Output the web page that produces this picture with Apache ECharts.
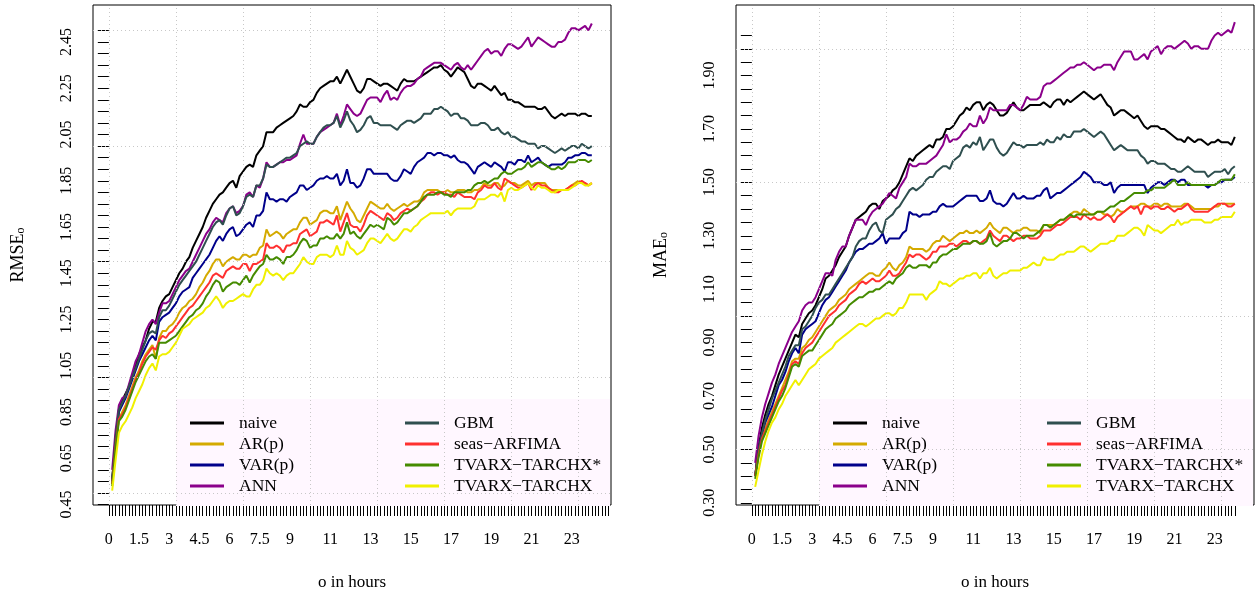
<!DOCTYPE html>
<html><head><meta charset="utf-8">
<script src="https://cdn.jsdelivr.net/npm/echarts@6/dist/echarts.min.js"></script>
<style>html,body{margin:0;padding:0;background:#fff}#c{width:1260px;height:596px}</style>
</head><body><div id="c"></div>
<script>
const seriesNames = ['naive','AR(p)','VAR(p)','ANN','GBM','seas\u2212ARFIMA','TVARX\u2212TARCHX*','TVARX\u2212TARCHX'];
const seriesColors = ['#000000','#D4AA00','#00008B','#8B008B','#2F4F4F','#FF3030','#458B00','#F0F000'];
const xTickHours = [0,1.5,3,4.5,6,7.5,9,11,13,15,17,19,21,23];
const stepsPerHour = 6;
const rmseTickLabels = [0.45,0.65,0.85,1.05,1.25,1.45,1.65,1.85,2.05,2.25,2.45];
const maeTickLabels = [0.30,0.50,0.70,0.90,1.10,1.30,1.50,1.70,1.90];
const rmseGridY = [0.5,1.0,1.5,2.0,2.5];
const maeGridY = [0.5,1.0,1.5,2.0];
const gridX = [0,20,40,60,80,100,120,140];

// ---- RMSE (left panel), 144 ten-minute steps ----
const rmseNaive = [
0.56,0.73,0.86,0.90,0.93,0.96,1.00,1.05,1.10,1.13,1.16,1.21,
1.24,1.24,1.30,1.33,1.35,1.36,1.39,1.42,1.45,1.47,1.50,1.52,
1.56,1.59,1.62,1.65,1.69,1.72,1.75,1.77,1.79,1.80,1.82,1.84,
1.85,1.82,1.87,1.89,1.91,1.92,1.91,1.96,1.98,2.00,2.06,2.06,
2.06,2.08,2.09,2.10,2.11,2.12,2.13,2.15,2.18,2.17,2.17,2.19,
2.20,2.23,2.25,2.26,2.27,2.28,2.28,2.30,2.27,2.30,2.33,2.30,
2.27,2.24,2.23,2.25,2.29,2.29,2.28,2.27,2.26,2.27,2.27,2.26,
2.25,2.24,2.27,2.29,2.28,2.28,2.28,2.29,2.30,2.31,2.32,2.33,
2.34,2.34,2.35,2.33,2.32,2.30,2.32,2.34,2.33,2.32,2.29,2.26,
2.25,2.27,2.27,2.26,2.25,2.24,2.26,2.24,2.22,2.23,2.20,2.20,
2.19,2.19,2.18,2.17,2.17,2.17,2.17,2.16,2.16,2.17,2.15,2.13,
2.12,2.13,2.14,2.13,2.14,2.14,2.14,2.13,2.14,2.14,2.13,2.13];
const rmseAR = [
0.54,0.71,0.82,0.85,0.88,0.92,0.96,1.00,1.03,1.07,1.10,1.12,
1.14,1.08,1.17,1.20,1.20,1.22,1.23,1.25,1.28,1.30,1.31,1.33,
1.34,1.36,1.39,1.41,1.44,1.46,1.49,1.51,1.51,1.48,1.50,1.51,
1.52,1.51,1.51,1.53,1.53,1.52,1.53,1.53,1.56,1.57,1.64,1.61,
1.62,1.63,1.62,1.60,1.62,1.63,1.64,1.64,1.67,1.69,1.69,1.66,
1.67,1.68,1.71,1.72,1.72,1.71,1.71,1.74,1.68,1.72,1.76,1.73,
1.71,1.68,1.67,1.70,1.73,1.76,1.75,1.74,1.73,1.73,1.75,1.73,
1.72,1.73,1.74,1.75,1.74,1.75,1.76,1.76,1.77,1.80,1.81,1.81,
1.81,1.81,1.80,1.80,1.81,1.80,1.80,1.81,1.81,1.81,1.80,1.80,
1.81,1.81,1.82,1.84,1.83,1.83,1.84,1.84,1.82,1.83,1.85,1.84,
1.84,1.83,1.83,1.84,1.85,1.83,1.84,1.84,1.84,1.84,1.82,1.81,
1.81,1.81,1.81,1.81,1.82,1.83,1.84,1.85,1.84,1.84,1.83,1.84];
const rmseVAR = [
0.55,0.73,0.85,0.88,0.91,0.95,0.99,1.03,1.07,1.10,1.13,1.16,
1.18,1.16,1.24,1.26,1.27,1.28,1.30,1.32,1.35,1.37,1.38,1.39,
1.43,1.45,1.47,1.49,1.51,1.53,1.56,1.59,1.61,1.59,1.62,1.64,
1.65,1.61,1.62,1.64,1.66,1.67,1.65,1.70,1.70,1.72,1.80,1.77,
1.77,1.76,1.77,1.77,1.76,1.78,1.79,1.80,1.83,1.83,1.81,1.82,
1.83,1.85,1.86,1.86,1.87,1.86,1.86,1.88,1.83,1.85,1.90,1.84,
1.84,1.82,1.83,1.86,1.90,1.90,1.88,1.88,1.88,1.88,1.88,1.86,
1.85,1.85,1.87,1.90,1.89,1.88,1.91,1.93,1.94,1.95,1.97,1.97,
1.96,1.97,1.97,1.96,1.96,1.95,1.96,1.94,1.93,1.93,1.92,1.90,
1.88,1.91,1.92,1.93,1.92,1.91,1.93,1.92,1.91,1.89,1.93,1.93,
1.92,1.94,1.94,1.93,1.96,1.93,1.94,1.95,1.93,1.92,1.91,1.92,
1.92,1.92,1.92,1.93,1.95,1.95,1.96,1.96,1.97,1.97,1.96,1.96];
const rmseANN = [
0.60,0.77,0.88,0.91,0.92,0.97,1.02,1.07,1.10,1.15,1.20,1.23,
1.25,1.23,1.28,1.32,1.32,1.33,1.36,1.39,1.42,1.44,1.46,1.47,
1.50,1.53,1.56,1.59,1.62,1.64,1.67,1.69,1.68,1.67,1.71,1.73,
1.74,1.71,1.72,1.74,1.79,1.80,1.78,1.83,1.82,1.86,1.93,1.91,
1.91,1.92,1.93,1.93,1.94,1.94,1.95,1.96,2.01,2.05,2.01,2.01,
2.01,2.04,2.06,2.07,2.08,2.09,2.10,2.14,2.09,2.13,2.18,2.16,
2.14,2.13,2.14,2.17,2.20,2.21,2.21,2.21,2.19,2.22,2.24,2.20,
2.21,2.20,2.23,2.25,2.26,2.26,2.27,2.29,2.30,2.33,2.34,2.35,
2.36,2.36,2.36,2.35,2.34,2.33,2.35,2.36,2.34,2.33,2.35,2.33,
2.35,2.37,2.39,2.41,2.42,2.40,2.41,2.41,2.39,2.42,2.44,2.44,
2.43,2.42,2.43,2.45,2.47,2.43,2.45,2.47,2.46,2.45,2.44,2.43,
2.43,2.45,2.45,2.46,2.49,2.51,2.51,2.50,2.51,2.52,2.50,2.53];
const rmseGBM = [
0.55,0.74,0.86,0.89,0.92,0.96,1.00,1.04,1.08,1.12,1.16,1.19,
1.20,1.19,1.26,1.29,1.29,1.31,1.34,1.37,1.40,1.42,1.44,1.46,
1.48,1.50,1.53,1.56,1.59,1.62,1.65,1.67,1.68,1.66,1.70,1.73,
1.74,1.70,1.71,1.74,1.78,1.79,1.78,1.83,1.83,1.86,1.92,1.91,
1.91,1.92,1.93,1.94,1.95,1.95,1.96,1.97,2.00,2.01,2.02,2.01,
2.01,2.04,2.06,2.08,2.09,2.09,2.10,2.13,2.08,2.11,2.15,2.11,
2.09,2.06,2.07,2.09,2.12,2.13,2.10,2.10,2.09,2.09,2.09,2.09,
2.08,2.07,2.09,2.10,2.11,2.11,2.10,2.11,2.12,2.14,2.14,2.14,
2.16,2.16,2.17,2.16,2.15,2.13,2.14,2.14,2.12,2.12,2.11,2.09,
2.09,2.09,2.10,2.10,2.09,2.07,2.07,2.08,2.06,2.05,2.06,2.04,
2.04,2.03,2.02,2.02,2.01,2.01,2.01,1.99,2.00,2.00,1.99,1.98,
1.97,1.98,1.99,1.98,1.99,2.00,2.00,1.99,2.01,2.00,1.99,2.00];
const rmseSeas = [
0.54,0.70,0.82,0.84,0.87,0.91,0.95,0.99,1.02,1.06,1.09,1.11,
1.13,1.12,1.16,1.18,1.17,1.19,1.20,1.22,1.24,1.26,1.28,1.30,
1.31,1.33,1.35,1.37,1.39,1.41,1.44,1.45,1.44,1.43,1.46,1.47,
1.48,1.47,1.47,1.49,1.49,1.46,1.49,1.49,1.50,1.51,1.58,1.56,
1.56,1.57,1.56,1.54,1.57,1.57,1.58,1.58,1.62,1.63,1.64,1.61,
1.62,1.63,1.67,1.67,1.68,1.67,1.66,1.70,1.63,1.67,1.71,1.66,
1.65,1.65,1.63,1.66,1.70,1.72,1.71,1.70,1.69,1.68,1.71,1.70,
1.68,1.69,1.71,1.72,1.73,1.72,1.73,1.74,1.76,1.77,1.79,1.80,
1.80,1.79,1.80,1.80,1.79,1.79,1.78,1.80,1.79,1.78,1.78,1.78,
1.77,1.80,1.81,1.83,1.82,1.82,1.84,1.82,1.81,1.86,1.85,1.84,
1.83,1.82,1.82,1.83,1.84,1.81,1.83,1.84,1.83,1.83,1.82,1.81,
1.80,1.80,1.81,1.81,1.82,1.83,1.83,1.84,1.85,1.84,1.83,1.84];
const rmseTvStar = [
0.53,0.69,0.81,0.83,0.86,0.90,0.94,0.98,1.01,1.04,1.07,1.09,
1.10,1.08,1.15,1.15,1.15,1.16,1.17,1.18,1.20,1.22,1.24,1.26,
1.27,1.29,1.30,1.32,1.35,1.37,1.40,1.42,1.41,1.37,1.39,1.40,
1.41,1.41,1.40,1.42,1.44,1.41,1.44,1.46,1.48,1.49,1.53,1.51,
1.51,1.52,1.51,1.49,1.52,1.52,1.53,1.55,1.58,1.60,1.59,1.56,
1.57,1.57,1.60,1.60,1.61,1.60,1.60,1.62,1.60,1.62,1.67,1.62,
1.63,1.61,1.60,1.62,1.64,1.66,1.65,1.66,1.65,1.64,1.69,1.68,
1.66,1.67,1.69,1.71,1.71,1.72,1.73,1.74,1.76,1.78,1.79,1.79,
1.79,1.80,1.80,1.79,1.79,1.78,1.80,1.80,1.80,1.80,1.81,1.81,
1.83,1.84,1.84,1.85,1.84,1.85,1.86,1.86,1.88,1.89,1.88,1.88,
1.89,1.90,1.90,1.91,1.93,1.91,1.92,1.93,1.93,1.92,1.91,1.90,
1.90,1.91,1.90,1.91,1.93,1.93,1.93,1.94,1.94,1.94,1.93,1.94];
const rmseTv = [
0.51,0.64,0.76,0.79,0.81,0.84,0.87,0.91,0.94,0.97,1.01,1.04,
1.06,1.03,1.09,1.10,1.10,1.11,1.13,1.15,1.18,1.21,1.22,1.23,
1.25,1.26,1.27,1.28,1.30,1.31,1.33,1.35,1.33,1.30,1.32,1.33,
1.33,1.34,1.35,1.36,1.35,1.35,1.38,1.40,1.40,1.42,1.47,1.45,
1.44,1.45,1.44,1.42,1.44,1.45,1.45,1.47,1.49,1.52,1.50,1.49,
1.49,1.52,1.53,1.53,1.53,1.52,1.53,1.57,1.53,1.53,1.59,1.56,
1.55,1.53,1.54,1.55,1.58,1.60,1.60,1.59,1.58,1.60,1.62,1.60,
1.59,1.60,1.62,1.64,1.64,1.63,1.65,1.66,1.68,1.69,1.70,1.71,
1.71,1.71,1.71,1.71,1.72,1.70,1.72,1.73,1.73,1.73,1.73,1.73,
1.74,1.77,1.77,1.77,1.78,1.79,1.79,1.78,1.80,1.76,1.81,1.82,
1.81,1.81,1.82,1.83,1.84,1.82,1.81,1.83,1.82,1.82,1.81,1.80,
1.80,1.81,1.81,1.81,1.81,1.82,1.83,1.84,1.84,1.83,1.83,1.84];

// ---- MAE (right panel) ----
const maeNaive = [
0.40,0.51,0.58,0.63,0.67,0.70,0.74,0.78,0.81,0.84,0.87,0.90,
0.93,0.92,0.97,0.99,1.01,1.02,1.04,1.07,1.10,1.14,1.15,1.17,
1.19,1.22,1.24,1.26,1.30,1.33,1.36,1.37,1.38,1.39,1.41,1.42,
1.42,1.40,1.43,1.44,1.45,1.47,1.48,1.50,1.53,1.56,1.59,1.58,
1.60,1.61,1.62,1.63,1.64,1.63,1.66,1.66,1.67,1.70,1.70,1.71,
1.73,1.75,1.76,1.78,1.77,1.79,1.80,1.80,1.77,1.79,1.80,1.79,
1.77,1.75,1.75,1.76,1.78,1.80,1.78,1.77,1.77,1.78,1.79,1.79,
1.79,1.79,1.80,1.79,1.78,1.80,1.81,1.81,1.79,1.81,1.80,1.81,
1.82,1.83,1.84,1.83,1.82,1.81,1.82,1.83,1.81,1.79,1.78,1.75,
1.76,1.77,1.77,1.76,1.75,1.74,1.75,1.73,1.71,1.70,1.71,1.71,
1.71,1.70,1.70,1.69,1.68,1.67,1.66,1.66,1.65,1.67,1.66,1.65,
1.66,1.66,1.65,1.64,1.65,1.65,1.66,1.65,1.65,1.65,1.64,1.67];
const maeAR = [
0.40,0.49,0.54,0.58,0.61,0.64,0.67,0.70,0.73,0.76,0.79,0.83,
0.84,0.84,0.88,0.89,0.91,0.92,0.94,0.96,0.98,1.00,1.02,1.03,
1.04,1.06,1.07,1.08,1.10,1.11,1.12,1.13,1.14,1.15,1.16,1.16,
1.15,1.15,1.17,1.18,1.20,1.18,1.17,1.19,1.20,1.22,1.26,1.25,
1.25,1.25,1.25,1.24,1.25,1.27,1.28,1.28,1.30,1.29,1.28,1.29,
1.30,1.31,1.31,1.32,1.31,1.31,1.32,1.31,1.32,1.33,1.35,1.33,
1.32,1.31,1.33,1.33,1.32,1.31,1.32,1.32,1.33,1.33,1.32,1.32,
1.32,1.31,1.34,1.34,1.34,1.34,1.35,1.36,1.36,1.37,1.38,1.39,
1.39,1.38,1.40,1.39,1.38,1.38,1.39,1.39,1.38,1.38,1.37,1.38,
1.40,1.39,1.39,1.40,1.41,1.41,1.41,1.42,1.42,1.41,1.41,1.42,
1.42,1.41,1.42,1.42,1.41,1.41,1.41,1.41,1.42,1.42,1.41,1.40,
1.40,1.40,1.40,1.40,1.40,1.41,1.41,1.42,1.42,1.42,1.42,1.42];
const maeVAR = [
0.40,0.50,0.56,0.60,0.63,0.66,0.70,0.74,0.76,0.79,0.83,0.86,
0.88,0.86,0.93,0.95,0.96,0.97,0.98,1.01,1.04,1.06,1.07,1.09,
1.11,1.13,1.15,1.17,1.20,1.22,1.24,1.25,1.25,1.26,1.27,1.27,
1.28,1.29,1.31,1.27,1.29,1.29,1.29,1.29,1.31,1.32,1.39,1.38,
1.38,1.37,1.38,1.38,1.38,1.39,1.39,1.41,1.42,1.41,1.41,1.41,
1.42,1.43,1.44,1.45,1.45,1.45,1.45,1.43,1.43,1.44,1.47,1.43,
1.42,1.42,1.41,1.42,1.44,1.46,1.44,1.44,1.45,1.44,1.44,1.44,
1.45,1.45,1.47,1.48,1.44,1.45,1.46,1.46,1.47,1.48,1.49,1.50,
1.51,1.52,1.54,1.53,1.52,1.50,1.50,1.50,1.49,1.49,1.50,1.46,
1.48,1.49,1.49,1.49,1.49,1.49,1.49,1.49,1.49,1.46,1.48,1.49,
1.50,1.50,1.49,1.50,1.51,1.51,1.50,1.51,1.51,1.49,1.49,1.49,
1.49,1.49,1.49,1.48,1.49,1.49,1.50,1.50,1.51,1.51,1.51,1.52];
const maeANN = [
0.45,0.55,0.62,0.67,0.71,0.75,0.78,0.82,0.85,0.88,0.91,0.94,
0.96,0.98,1.02,1.04,1.05,1.05,1.07,1.10,1.13,1.16,1.16,1.15,
1.21,1.24,1.26,1.26,1.30,1.33,1.36,1.36,1.36,1.34,1.37,1.39,
1.40,1.41,1.42,1.44,1.46,1.45,1.44,1.48,1.50,1.52,1.57,1.56,
1.56,1.57,1.57,1.57,1.58,1.59,1.60,1.62,1.64,1.68,1.65,1.66,
1.66,1.67,1.69,1.70,1.72,1.71,1.71,1.75,1.72,1.74,1.78,1.77,
1.77,1.77,1.77,1.77,1.79,1.79,1.78,1.77,1.79,1.82,1.81,1.81,
1.81,1.82,1.86,1.87,1.87,1.88,1.89,1.90,1.91,1.92,1.93,1.93,
1.94,1.94,1.95,1.94,1.93,1.92,1.93,1.93,1.94,1.94,1.94,1.92,
1.95,1.97,1.99,1.99,1.99,1.96,1.96,1.97,1.98,1.96,1.99,2.00,
2.01,1.98,2.00,2.01,2.01,2.00,2.01,2.02,2.03,2.02,2.00,2.01,
2.01,2.00,2.00,2.00,2.03,2.05,2.06,2.05,2.06,2.07,2.06,2.10];
const maeGBM = [
0.40,0.50,0.56,0.61,0.65,0.69,0.72,0.75,0.78,0.81,0.85,0.87,
0.89,0.89,0.95,0.96,0.98,1.00,1.03,1.05,1.06,1.08,1.08,1.10,
1.12,1.14,1.16,1.18,1.20,1.22,1.26,1.28,1.29,1.29,1.32,1.34,
1.35,1.32,1.31,1.36,1.37,1.38,1.40,1.41,1.43,1.45,1.47,1.48,
1.47,1.48,1.49,1.51,1.52,1.52,1.54,1.55,1.56,1.56,1.55,1.58,
1.59,1.60,1.63,1.64,1.63,1.65,1.64,1.67,1.62,1.64,1.66,1.66,
1.63,1.61,1.60,1.61,1.63,1.65,1.64,1.64,1.63,1.64,1.64,1.64,
1.64,1.65,1.64,1.66,1.65,1.65,1.67,1.66,1.68,1.67,1.67,1.69,
1.69,1.69,1.70,1.69,1.68,1.67,1.68,1.69,1.68,1.66,1.64,1.62,
1.63,1.64,1.63,1.62,1.62,1.62,1.62,1.60,1.59,1.57,1.58,1.58,
1.57,1.57,1.57,1.56,1.55,1.55,1.54,1.54,1.55,1.56,1.55,1.54,
1.54,1.54,1.54,1.52,1.53,1.54,1.54,1.54,1.55,1.53,1.55,1.56];
const maeSeas = [
0.40,0.48,0.54,0.57,0.60,0.63,0.66,0.69,0.72,0.74,0.78,0.82,
0.83,0.82,0.86,0.88,0.89,0.90,0.92,0.94,0.96,0.98,1.00,1.01,
1.02,1.04,1.05,1.06,1.08,1.09,1.10,1.12,1.13,1.12,1.13,1.14,
1.13,1.13,1.14,1.15,1.17,1.15,1.15,1.16,1.18,1.20,1.23,1.22,
1.23,1.23,1.22,1.21,1.22,1.24,1.24,1.26,1.26,1.26,1.27,1.27,
1.26,1.27,1.28,1.28,1.27,1.28,1.28,1.27,1.28,1.29,1.32,1.30,
1.29,1.28,1.30,1.30,1.29,1.28,1.29,1.29,1.30,1.30,1.29,1.29,
1.29,1.30,1.32,1.32,1.32,1.33,1.34,1.34,1.35,1.36,1.37,1.37,
1.37,1.36,1.38,1.37,1.36,1.37,1.36,1.36,1.37,1.38,1.37,1.35,
1.37,1.38,1.39,1.40,1.41,1.40,1.41,1.38,1.41,1.41,1.40,1.41,
1.41,1.40,1.40,1.41,1.40,1.39,1.40,1.40,1.41,1.42,1.40,1.39,
1.39,1.39,1.39,1.39,1.40,1.41,1.42,1.42,1.42,1.41,1.41,1.42];
const maeTvStar = [
0.39,0.47,0.53,0.56,0.59,0.62,0.65,0.68,0.70,0.73,0.77,0.81,
0.82,0.81,0.85,0.86,0.87,0.87,0.89,0.91,0.93,0.95,0.96,0.97,
0.99,1.00,1.01,1.02,1.04,1.05,1.06,1.07,1.07,1.08,1.09,1.09,
1.10,1.10,1.11,1.12,1.13,1.12,1.14,1.15,1.16,1.18,1.19,1.18,
1.18,1.19,1.19,1.19,1.18,1.20,1.20,1.22,1.23,1.23,1.24,1.25,
1.25,1.26,1.27,1.27,1.27,1.28,1.28,1.27,1.27,1.28,1.31,1.27,
1.26,1.27,1.28,1.28,1.29,1.31,1.31,1.30,1.29,1.30,1.30,1.30,
1.31,1.32,1.34,1.34,1.33,1.34,1.35,1.36,1.36,1.37,1.38,1.37,
1.38,1.38,1.38,1.38,1.38,1.38,1.39,1.39,1.39,1.40,1.41,1.41,
1.42,1.43,1.43,1.44,1.45,1.46,1.46,1.46,1.46,1.47,1.47,1.48,
1.48,1.48,1.48,1.49,1.50,1.51,1.49,1.49,1.49,1.50,1.49,1.49,
1.49,1.49,1.49,1.49,1.49,1.49,1.50,1.51,1.51,1.51,1.51,1.53];
const maeTv = [
0.36,0.42,0.48,0.53,0.57,0.60,0.62,0.65,0.67,0.70,0.72,0.74,
0.76,0.74,0.76,0.78,0.80,0.81,0.82,0.84,0.85,0.86,0.87,0.88,
0.90,0.91,0.92,0.93,0.94,0.95,0.96,0.97,0.97,0.96,0.97,0.98,
0.99,0.99,1.00,1.01,1.01,1.00,1.01,1.03,1.03,1.05,1.08,1.08,
1.08,1.08,1.08,1.06,1.08,1.09,1.10,1.13,1.12,1.12,1.11,1.12,
1.13,1.14,1.14,1.15,1.15,1.16,1.16,1.14,1.16,1.16,1.18,1.15,
1.14,1.15,1.16,1.16,1.17,1.17,1.17,1.17,1.18,1.18,1.19,1.20,
1.19,1.19,1.22,1.21,1.21,1.21,1.22,1.23,1.23,1.24,1.24,1.24,
1.25,1.26,1.26,1.25,1.24,1.25,1.26,1.27,1.27,1.27,1.28,1.28,
1.30,1.30,1.30,1.31,1.32,1.33,1.33,1.32,1.30,1.34,1.33,1.32,
1.32,1.31,1.32,1.33,1.34,1.34,1.36,1.34,1.35,1.35,1.36,1.36,
1.36,1.36,1.35,1.35,1.35,1.36,1.36,1.37,1.37,1.37,1.37,1.39];

const rmseSeries = [rmseNaive, rmseAR, rmseVAR, rmseANN, rmseGBM, rmseSeas, rmseTvStar, rmseTv];
const maeSeries  = [maeNaive, maeAR, maeVAR, maeANN, maeGBM, maeSeas, maeTvStar, maeTv];

const FONT = 'Liberation Serif';
function range(a, b, step) { const out = []; for (let v = a; v <= b + 1e-9; v += step) out.push(Math.round(v * 1000) / 1000); return out; }

const chart = echarts.init(document.getElementById('c'), null, { renderer: 'canvas' });

function makeX(gi, tickEnd) {
  return {
    gridIndex: gi, type: 'value', min: -4.72, max: 149.72,
    axisLine: { show: false },
    axisTick: { show: true, length: 11, customValues: range(0, tickEnd, 1), lineStyle: { color: '#000', width: 1 } },
    axisLabel: {
      customValues: xTickHours.map(h => h * stepsPerHour),
      formatter: v => String(xTickHours[xTickHours.findIndex(h => Math.abs(h * stepsPerHour - v) < 1e-6)]),
      margin: 27, fontFamily: FONT, fontSize: 16, color: '#000'
    },
    splitLine: { show: false },
    name: 'o in hours', nameLocation: 'middle', nameGap: 69,
    nameTextStyle: { fontFamily: FONT, fontSize: 17, color: '#000' }
  };
}
function makeY(gi, min, max, minorFrom, minorTo, labels, title) {
  return {
    gridIndex: gi, type: 'value', min: min, max: max,
    axisLine: { show: false },
    axisTick: { show: true, length: 11, customValues: range(minorFrom, minorTo, 0.05), lineStyle: { color: '#000', width: 1 } },
    axisLabel: { customValues: labels, formatter: v => v.toFixed(2), rotate: 90, margin: 18, fontFamily: FONT, fontSize: 16, color: '#000' },
    splitLine: { show: false },
    name: '{a|' + title + '}{b|o}', nameLocation: 'middle', nameRotate: 90, nameGap: 66,
    nameTextStyle: {
      color: '#000',
      rich: {
        a: { fontFamily: FONT, fontSize: 18, lineHeight: 18, verticalAlign: 'top', color: '#000' },
        b: { fontFamily: FONT, fontSize: 12, lineHeight: 12, padding: [10, 0, 0, 0], verticalAlign: 'bottom', color: '#000' }
      }
    }
  };
}
function gridLineSeries(gi, ys) {
  return {
    type: 'line', xAxisIndex: gi, yAxisIndex: gi, data: [], z: 2, silent: true, animation: false,
    markLine: {
      silent: true, animation: false, symbol: ['none', 'none'], label: { show: false },
      lineStyle: { type: [1, 3], color: '#C8C8C8', width: 1 },
      emphasis: { disabled: true },
      data: ys.map(y => ({ yAxis: y })).concat(gridX.map(x => ({ xAxis: x })))
    }
  };
}
function dataSeries(gi, arrs) {
  return arrs.map((vals, k) => ({
    type: 'line', name: seriesNames[k], xAxisIndex: gi, yAxisIndex: gi,
    data: vals.map((v, i) => [i + 1, v]),
    showSymbol: false, symbol: 'none', z: 3, silent: true, animation: false,
    lineStyle: { width: 2, color: seriesColors[k] }, itemStyle: { color: seriesColors[k] }
  }));
}
function legend(left, names) {
  return {
    data: names, left: left, top: 414, orient: 'vertical', padding: 0,
    icon: 'rect', itemWidth: 34, itemHeight: 3, itemGap: 3, selectedMode: false,
    textStyle: { fontFamily: FONT, fontSize: 17.5, color: '#000', lineHeight: 17, padding: [0, 0, 0, 10] }
  };
}

chart.setOption({
  animation: false,
  backgroundColor: '#fff',
  grid: [
    { left: 93, top: 5, width: 518, height: 502, show: true, borderColor: '#000', borderWidth: 1, backgroundColor: 'transparent' },
    { left: 736, top: 5, width: 518, height: 502, show: true, borderColor: '#000', borderWidth: 1, backgroundColor: 'transparent' }
  ],
  xAxis: [makeX(0, 149), makeX(1, 144)],
  yAxis: [
    makeY(0, 0.448, 2.61, 0.45, 2.5, rmseTickLabels, 'RMSE'),
    makeY(1, 0.292, 2.164, 0.30, 2.05, maeTickLabels, 'MAE')
  ],
  legend: [
    legend(190, seriesNames.slice(0, 4)), legend(405, seriesNames.slice(4)),
    legend(833, seriesNames.slice(0, 4)), legend(1047, seriesNames.slice(4))
  ],
  graphic: [
    { type: 'rect', z: 1, silent: true, shape: { x: 176, y: 399, width: 434, height: 107 }, style: { fill: '#FFF7FF' } },
    { type: 'rect', z: 1, silent: true, shape: { x: 819, y: 399, width: 434, height: 107 }, style: { fill: '#FFF7FF' } }
  ],
  series: [gridLineSeries(0, rmseGridY), gridLineSeries(1, maeGridY)]
    .concat(dataSeries(0, rmseSeries), dataSeries(1, maeSeries))
});
</script>
</body></html>
